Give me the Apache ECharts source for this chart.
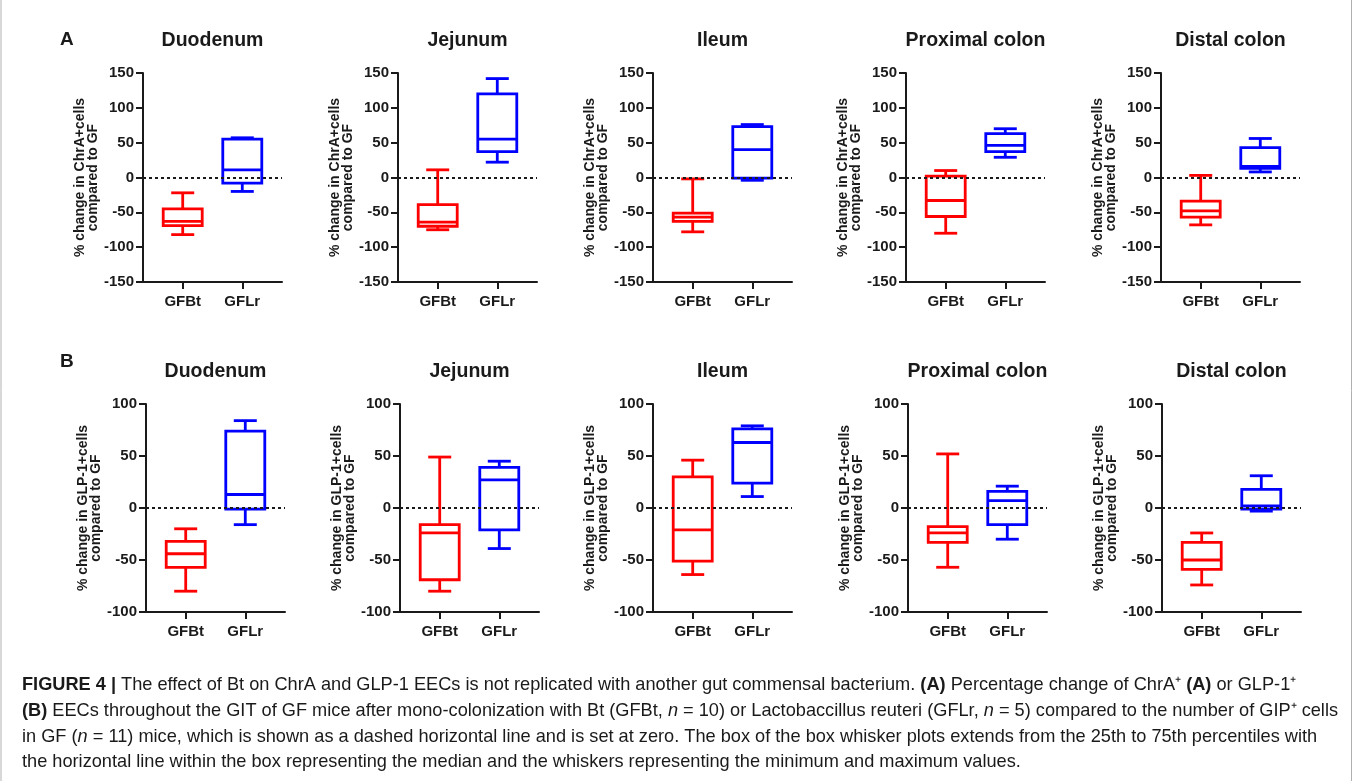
<!DOCTYPE html>
<html>
<head>
<meta charset="utf-8">
<script src="https://cdn.jsdelivr.net/npm/echarts@6/dist/echarts.min.js"></script>
<style>
  html, body { margin: 0; padding: 0; background: #fff; }
  #main { width: 1357px; height: 781px; }
</style>
</head>
<body>
<div id="main"></div>
<script>
// regions of the gut (panel titles)
var regions = ['Duodenum', 'Jejunum', 'Ileum', 'Proximal colon', 'Distal colon'];
var groups = ['GFBt', 'GFLr'];
// x slots, groups sit on slot 2 and 5 (GraphPad spacing)
var slots = ['s0', 's1', 'GFBt', 's3', 's4', 'GFLr', 's6', 's7'];

// [min, Q1, median, Q3, max] per region
var chrA_GFBt = [[-82, -69, -63, -45, -22], [-75, -70, -64, -39, 11], [-78, -63, -57, -51, -2], [-80, -56, -33, 2, 10], [-68, -57, -48, -34, 3]];
var chrA_GFLr = [[-20, -8, 11, 55, 57], [22, 37, 55, 120, 142], [-4, -1, 40, 73, 76], [29, 37, 46, 63, 70], [8, 13, 16, 43, 56]];
var glp1_GFBt = [[-80, -57, -44, -32, -20], [-80, -69, -24, -16, 49], [-64, -51, -21, 30, 46], [-57, -33, -24, -18, 52], [-74, -59, -50, -33, -24]];
var glp1_GFLr = [[-16, -1, 13, 74, 84], [-39, -21, 27, 39, 45], [11, 24, 63, 76, 79], [-30, -16, 7, 16, 21], [-3, -1, 2, 18, 31]];

var yTicksA = { min: -150, max: 150, interval: 50 };
var yTicksB = { min: -100, max: 100, interval: 50 };

var RED = '#ff0000', BLUE = '#0000ff', INK = '#1a1a1a';
var FONT = '"Liberation Sans", Arial, sans-serif';

var rows = [
    { letter: 'A', letterY: 40, titleY: 41, top: 73, height: 209, lefts: [143, 398, 653, 906, 1161],
      yname: '% change in ChrA+cells\ncompared to GF', ticks: yTicksA, bt: chrA_GFBt, lr: chrA_GFLr },
    { letter: 'B', letterY: 362, titleY: 372, top: 404, height: 208, lefts: [146, 400, 653, 908, 1162],
      yname: '% change in GLP-1+cells\ncompared to GF', ticks: yTicksB, bt: glp1_GFBt, lr: glp1_GFLr }
];

function isGroup(index, value) {
    return groups.indexOf(value) >= 0;
}

// box + whiskers drawn from the axis scale
function renderBox(params, api) {
    var x = api.value(0);
    var pMin = api.coord([x, api.value(1)]);
    var pQ1 = api.coord([x, api.value(2)]);
    var pMed = api.coord([x, api.value(3)]);
    var pQ3 = api.coord([x, api.value(4)]);
    var pMax = api.coord([x, api.value(5)]);
    var cx = pMin[0];
    var bw = 19.5, cw = 11.5;
    var style = { stroke: api.visual('color'), lineWidth: 2.8, fill: 'none' };
    return {
        type: 'group',
        children: [
            { type: 'line', shape: { x1: cx, y1: pQ3[1], x2: cx, y2: pMax[1] }, style: style },
            { type: 'line', shape: { x1: cx, y1: pQ1[1], x2: cx, y2: pMin[1] }, style: style },
            { type: 'line', shape: { x1: cx - cw, y1: pMax[1], x2: cx + cw, y2: pMax[1] }, style: style },
            { type: 'line', shape: { x1: cx - cw, y1: pMin[1], x2: cx + cw, y2: pMin[1] }, style: style },
            { type: 'rect', shape: { x: cx - bw, y: pQ3[1], width: 2 * bw, height: pQ1[1] - pQ3[1] }, style: style },
            { type: 'line', shape: { x1: cx - bw, y1: pMed[1], x2: cx + bw, y2: pMed[1] }, style: style }
        ]
    };
}

var grids = [], xAxes = [], yAxes = [], series = [], graphics = [];

rows.forEach(function (row, r) {
    graphics.push({
        type: 'text', left: 60, top: row.letterY - 10,
        style: { text: row.letter, fontSize: 19, fontWeight: 'bold', fontFamily: FONT, fill: INK }
    });
    regions.forEach(function (name, i) {
        var k = r * 5 + i;
        var left = row.lefts[i], width = 139;
        grids.push({ left: left, top: row.top, width: width, height: row.height });
        graphics.push({
            type: 'text', x: left + width / 2, y: row.titleY,
            style: { text: name, fontSize: 19.5, fontWeight: 'bold', fontFamily: FONT, fill: INK,
                     textAlign: 'center', textVerticalAlign: 'middle' }
        });
        xAxes.push({
            type: 'category', gridIndex: k, data: slots, boundaryGap: false,
            axisLine: { onZero: false, lineStyle: { color: INK, width: 2 } },
            axisTick: { interval: isGroup, length: 7, lineStyle: { color: INK, width: 2 } },
            axisLabel: { interval: isGroup, margin: 12, color: INK, fontSize: 15, fontWeight: 'bold', fontFamily: FONT },
            splitLine: { show: false }
        });
        yAxes.push({
            type: 'value', gridIndex: k,
            min: row.ticks.min, max: row.ticks.max, interval: row.ticks.interval,
            name: row.yname, nameLocation: 'middle', nameGap: 39,
            nameTextStyle: { color: INK, fontSize: 14, fontWeight: 'bold', fontFamily: FONT, lineHeight: 13 },
            axisLine: { show: true, lineStyle: { color: INK, width: 2 } },
            axisTick: { show: true, length: 7, lineStyle: { color: INK, width: 2 } },
            axisLabel: { margin: 9, color: INK, fontSize: 15, fontWeight: 'bold', fontFamily: FONT },
            splitLine: { show: false }
        });
        series.push({
            name: 'GFBt', type: 'custom', xAxisIndex: k, yAxisIndex: k,
            itemStyle: { color: RED }, renderItem: renderBox, clip: false,
            encode: { x: 0, y: [1, 2, 3, 4, 5] },
            data: [['GFBt'].concat(row.bt[i])],
            markLine: {
                silent: true, symbol: 'none', label: { show: false },
                lineStyle: { color: INK, type: [3, 3], width: 2 },
                data: [{ yAxis: 0 }]
            },
            z: 3
        });
        series.push({
            name: 'GFLr', type: 'custom', xAxisIndex: k, yAxisIndex: k,
            itemStyle: { color: BLUE }, renderItem: renderBox, clip: false,
            encode: { x: 0, y: [1, 2, 3, 4, 5] },
            data: [['GFLr'].concat(row.lr[i])],
            z: 3
        });
    });
});

// caption below the figure
var capStyle = { fontSize: 18.2, fontFamily: '"Liberation Sans", sans-serif' };
function rs(extra) {
    var o = { fontSize: capStyle.fontSize, fontFamily: capStyle.fontFamily, fill: INK };
    for (var key in extra) o[key] = extra[key];
    return o;
}
var capRich = { b: rs({ fontWeight: 'bold' }), i: rs({ fontStyle: 'italic' }) };
var captionLines = [
    '{b|FIGURE 4 |} The effect of Bt on ChrA and GLP-1 EECs is not replicated with another gut commensal bacterium. {b|(A)} Percentage change of ChrA\u207A {b|(A)} or GLP-1\u207A',
    '{b|(B)} EECs throughout the GIT of GF mice after mono-colonization with Bt (GFBt, {i|n} = 10) or Lactobaccillus reuteri (GFLr, {i|n} = 5) compared to the number of GIP\u207A cells',
    'in GF ({i|n} = 11) mice, which is shown as a dashed horizontal line and is set at zero. The box of the box whisker plots extends from the 25th to 75th percentiles with',
    'the horizontal line within the box representing the median and the whiskers representing the minimum and maximum values.'
];
var capY = [685, 711, 737, 762];
captionLines.forEach(function (t, j) {
    graphics.push({
        type: 'text', x: 22, y: capY[j],
        style: { text: t, rich: capRich, fontSize: capStyle.fontSize, fontFamily: capStyle.fontFamily,
                 fill: INK, textVerticalAlign: 'middle' }
    });
});
// thin frame lines on both sides
graphics.push({ type: 'line', shape: { x1: 1, y1: 0, x2: 1, y2: 781 }, style: { stroke: '#b0b0b0', lineWidth: 1 } });
graphics.push({ type: 'line', shape: { x1: 1351.5, y1: 0, x2: 1351.5, y2: 781 }, style: { stroke: '#b0b0b0', lineWidth: 1 } });

var chart = echarts.init(document.getElementById('main'));
chart.setOption({
    backgroundColor: '#fff',
    animation: false,
    grid: grids,
    xAxis: xAxes,
    yAxis: yAxes,
    series: series,
    graphic: graphics
});
</script>
</body>
</html>
